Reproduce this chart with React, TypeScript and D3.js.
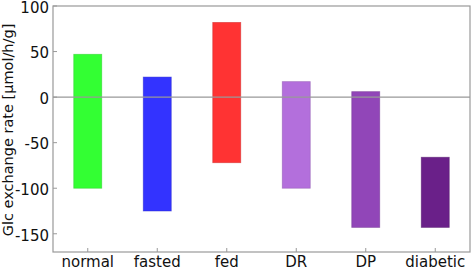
import React from "react";
import * as d3 from "d3";

const categories = ["normal", "fasted", "fed", "DR", "DP", "diabetic"];
const upperValues = [47, 22, 82, 17, 6, -66];
const lowerValues = [-100, -125, -72, -100, -143, -143];
const barColors = ["#33ff33", "#3333ff", "#ff3333", "#b36fdc", "#9146b8", "#6a2089"];
const yTicks = [100, 50, 0, -50, -100, -150];
const yLabel = "Glc exchange rate [μmol/h/g]";

const W = 472;
const H = 270;
const left = 53;
const right = 470;
const top = 6;
const bottom = 252;

export default function App() {
  const x = d3.scaleBand<string>().domain(categories).range([left, right]).padding(0);
  const y = d3.scaleLinear().domain([-170, 100]).range([bottom, top]);
  const barW = 28;
  const font = "DejaVu Sans, Verdana, sans-serif";
  return (
    <svg width={W} height={H} style={{ position: "absolute", left: 0, top: 0 }}>
      <rect x={0} y={0} width={W} height={H} fill="#fff" />
      {categories.map((c, i) => {
        const cx = (x(c) as number) + x.bandwidth() / 2;
        const y1 = y(upperValues[i]);
        const y2 = y(lowerValues[i]);
        return (
          <rect
            key={c}
            x={cx - barW / 2}
            y={y1}
            width={barW}
            height={y2 - y1}
            fill={barColors[i]}
            stroke={d3.color(barColors[i])!.darker(0.6).toString()}
            strokeWidth={0.8}
            strokeOpacity={0.6}
          />
        );
      })}
      <line x1={left} x2={right} y1={y(0)} y2={y(0)} stroke="#999" strokeWidth={1.2} />
      <rect x={left} y={top} width={right - left} height={bottom - top} fill="none" stroke="#999" strokeWidth={1.2} />
      {yTicks.map((t) => (
        <g key={t}>
          <line x1={left} x2={left + 4} y1={y(t)} y2={y(t)} stroke="#999" />
          <text x={left - 4} y={y(t)} dy="0.45em" textAnchor="end" fontFamily={font} fontSize={15} fill="#111">
            {t}
          </text>
        </g>
      ))}
      {categories.map((c) => {
        const cx = (x(c) as number) + x.bandwidth() / 2;
        return (
          <g key={c}>
            <line x1={cx} x2={cx} y1={bottom} y2={bottom - 4} stroke="#999" />
            <text x={cx} y={267} textAnchor="middle" fontFamily={font} fontSize={15} fill="#111">
              {c}
            </text>
          </g>
        );
      })}
      <text
        transform={`translate(12.5,${(top + bottom) / 2 + 1}) rotate(-90)`}
        textAnchor="middle"
        fontFamily={font}
        fontSize={14.5}
        fill="#111"
      >
        {yLabel}
      </text>
    </svg>
  );
}
